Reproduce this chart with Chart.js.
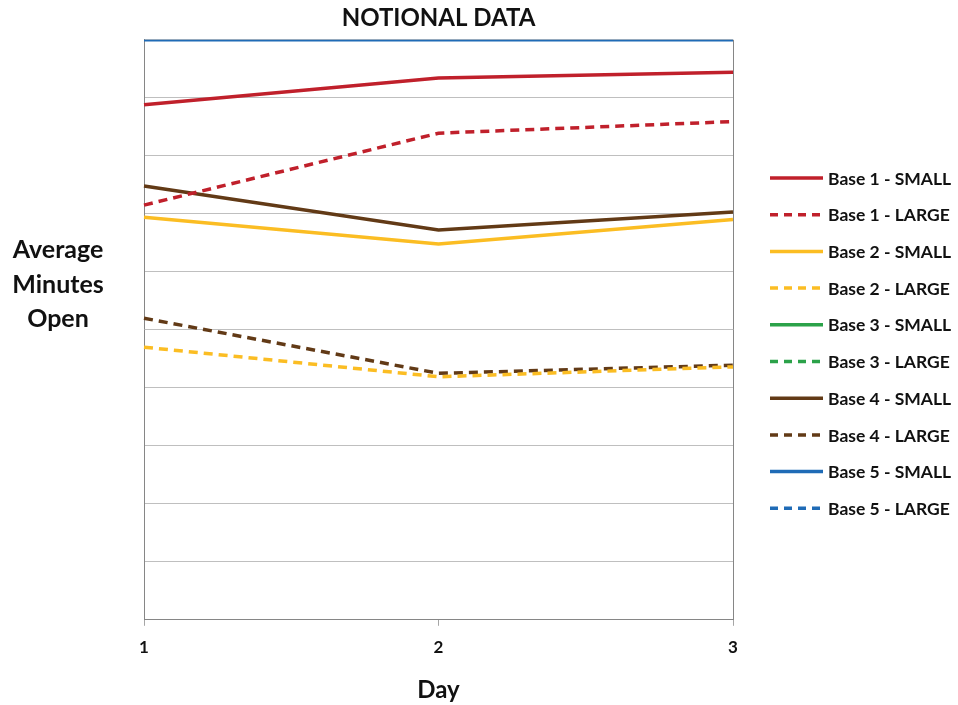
<!DOCTYPE html>
<html>
<head>
<meta charset="utf-8">
<script src="https://cdn.jsdelivr.net/npm/chart.js@4.4.0/dist/chart.umd.min.js"></script>
<style>
  html, body { margin: 0; padding: 0; background: #fff; }
  #wrap { width: 958px; height: 705px; position: relative; }
</style>
</head>
<body>
<div id="wrap"><canvas id="notionalChart"></canvas></div>
<script>
//---------------------------------------------
// DATA
//---------------------------------------------
const days = ["1", "2", "3"];

const base1Small = [88.8, 93.4, 94.4];
const base1Large = [71.5, 83.9, 85.9];
const base2Small = [69.4, 64.8, 69.0];
const base2Large = [47.0, 41.9, 43.6];
const base3Small = [null, null, null];
const base3Large = [null, null, null];
const base4Small = [74.8, 67.2, 70.3];
const base4Large = [52.0, 42.5, 43.9];
const base5Small = [100, 100, 100];
const base5Large = [null, null, null];

const FONT = "Lato, 'Open Sans', sans-serif";

//---------------------------------------------
// DATASETS
//---------------------------------------------
function line(label, data, color, dashed) {
    return {
        label, data,
        borderColor: color,
        backgroundColor: color,
        borderWidth: 3.5,
        borderDash: dashed ? [9, 6] : [],
        pointRadius: 0,
        tension: 0,
        fill: false,
        spanGaps: false
    };
}

const datasets = [
    line("Base 1 - SMALL", base1Small, "#C0202B", false),
    line("Base 1 - LARGE", base1Large, "#C0202B", true),
    line("Base 2 - SMALL", base2Small, "#FBBD23", false),
    line("Base 2 - LARGE", base2Large, "#FBBD23", true),
    line("Base 3 - SMALL", base3Small, "#2BA249", false),
    line("Base 3 - LARGE", base3Large, "#2BA249", true),
    line("Base 4 - SMALL", base4Small, "#623A16", false),
    line("Base 4 - LARGE", base4Large, "#623A16", true),
    line("Base 5 - SMALL", base5Small, "#1F6BB6", false),
    line("Base 5 - LARGE", base5Large, "#1F6BB6", true)
];

//---------------------------------------------
// EXTRA DRAWING: legend, y title, right border
//---------------------------------------------
const extras = {
    id: "extras",
    afterDatasetsDraw(chart) {
        const ctx = chart.ctx;
        const a = chart.chartArea;
        ctx.save();

        // right border of plot
        ctx.strokeStyle = "#868686";
        ctx.lineWidth = 1;
        ctx.beginPath();
        ctx.moveTo(Math.round(a.right) + 0.5, a.top);
        ctx.lineTo(Math.round(a.right) + 0.5, a.bottom);
        ctx.stroke();

        // y axis title (horizontal, three lines)
        ctx.fillStyle = "#111";
        ctx.font = "bold 25px " + FONT;
        ctx.textAlign = "center";
        ctx.textBaseline = "middle";
        ["Average", "Minutes", "Open"].forEach((t, i) => {
            ctx.fillText(t, 58, 250 + i * 34.5);
        });

        // legend
        ctx.font = "bold 17.5px " + FONT;
        ctx.textAlign = "left";
        chart.data.datasets.forEach((ds, i) => {
            const y = 178 + i * 36.7;
            ctx.strokeStyle = ds.borderColor;
            ctx.lineWidth = 3.5;
            ctx.setLineDash(ds.borderDash.length ? [8, 6] : []);
            ctx.beginPath();
            ctx.moveTo(770, y);
            ctx.lineTo(823, y);
            ctx.stroke();
            ctx.setLineDash([]);
            ctx.fillStyle = "#111";
            ctx.fillText(ds.label, 828, y + 1);
        });
        ctx.restore();
    }
};

//---------------------------------------------
// CHART
//---------------------------------------------
new Chart(document.getElementById("notionalChart"), {
    type: "line",
    data: { labels: days, datasets },
    options: {
        responsive: true,
        maintainAspectRatio: false,
        animation: false,
        layout: { padding: { left: 144, right: 225, top: 4, bottom: 0 } },
        plugins: {
            legend: { display: false },
            tooltip: { enabled: false },
            title: {
                display: true,
                text: "NOTIONAL DATA",
                color: "#111",
                font: { family: FONT, size: 24, weight: "bold" },
                padding: { top: 0, bottom: 7 }
            }
        },
        scales: {
            x: {
                offset: false,
                grid: { drawOnChartArea: false, drawTicks: true, tickLength: 6, color: "#A6A6A6" },
                border: { color: "#868686" },
                ticks: { color: "#111", font: { family: FONT, size: 17, weight: "bold" }, padding: 12 },
                title: {
                    display: true, text: "Day", color: "#111",
                    font: { family: FONT, size: 24, weight: "bold" },
                    padding: { top: 6, bottom: 0 }
                }
            },
            y: {
                min: 0, max: 100,
                ticks: { display: false, stepSize: 10 },
                grid: { color: "#BFBFBF", drawTicks: false, lineWidth: 1 },
                border: { color: "#868686" }
            }
        }
    },
    plugins: [extras]
});
</script>
</body>
</html>
